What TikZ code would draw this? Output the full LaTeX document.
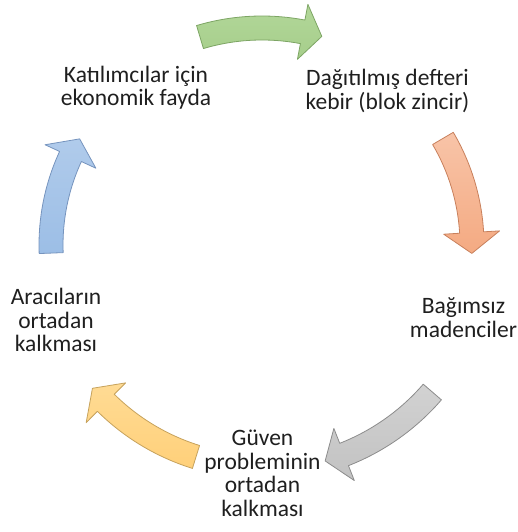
\documentclass[tikz,border=0pt]{standalone}
\usepackage{fontspec}
\setmainfont{Carlito}
\definecolor{greentop}{RGB}{178,215,153}
\definecolor{greenbot}{RGB}{166,206,139}
\definecolor{greenedge}{RGB}{125,165,100}
\definecolor{orangetop}{RGB}{248,196,168}
\definecolor{orangebot}{RGB}{244,170,130}
\definecolor{orangeedge}{RGB}{200,128,92}
\definecolor{graytop}{RGB}{210,210,210}
\definecolor{graybot}{RGB}{194,194,194}
\definecolor{grayedge}{RGB}{140,140,140}
\definecolor{yellowtop}{RGB}{255,219,148}
\definecolor{yellowbot}{RGB}{255,208,122}
\definecolor{yellowedge}{RGB}{198,162,92}
\definecolor{bluetop}{RGB}{176,203,235}
\definecolor{bluebot}{RGB}{156,190,230}
\definecolor{blueedge}{RGB}{118,148,190}

% curved arrow around the origin: style, radius, tail angle, head base angle, tip angle
\newcommand{\cyclearrow}[5]{%
  \path[#1] ({#3}:{#2+\bw}) arc[start angle=#3, end angle=#4, radius=#2+\bw]
    -- ({#4}:{#2+\hw}) -- ({#5}:{#2}) -- ({#4}:{#2-\hw}) -- ({#4}:{#2-\bw})
    arc[start angle=#4, end angle=#3, radius=#2-\bw] -- cycle;}

\begin{document}
\begin{tikzpicture}[
    x=1pt, y=1pt,
    line join=round,
    lbl/.style={font=\fontsize{23.5}{23.5}\selectfont, align=center, text=black!88},
    arr/.style={line width=0.8pt},
]
\useasboundingbox (0,0) rectangle (518,532);

% ── Adjustable parameters ───────────────────────────────────────────────────
\def\bw{12}   % half width of arrow body
\def\hw{28}   % half width of arrow head

% Centre of the cycle
\coordinate (C) at (262,287);

% ── Curved arrows ───────────────────────────────────────────────────────────
\begin{scope}[shift={(C)}]
  \cyclearrow{arr, top color=greentop, bottom color=greenbot, draw=greenedge}
    {217}{106.6}{79.2}{74.0}
  \cyclearrow{arr, top color=orangetop, bottom color=orangebot, draw=orangeedge}
    {210}{30.5}{3.4}{-2.3}
  \cyclearrow{arr, top color=graytop, bottom color=graybot, draw=grayedge}
    {225}{-40.8}{-68.6}{-73.7}
  \cyclearrow{arr, top color=yellowtop, bottom color=yellowbot, draw=yellowedge}
    {222}{-107.3}{-134.7}{-139.8}
  \cyclearrow{arr, top color=bluetop, bottom color=bluebot, draw=blueedge}
    {211}{182.2}{155.2}{149.8}
\end{scope}

% ── Labels ──────────────────────────────────────────────────────────────────
\node[lbl] (fayda)   at (136,444.5) {Katılımcılar için\\ekonomik fayda};
\node[lbl] (defter)  at (387.5,441) {Dağıtılmış defteri\\kebir (blok zincir)};
\node[lbl] (madenci) at (463.5,214.5) {Bağımsız\\madenciler};
\node[lbl] (guven)   at (262.5,58.5) {Güven\\probleminin\\ortadan\\kalkması};
\node[lbl] (araci)   at (56,212) {Aracıların\\ortadan\\kalkması};

\end{tikzpicture}
\end{document}
